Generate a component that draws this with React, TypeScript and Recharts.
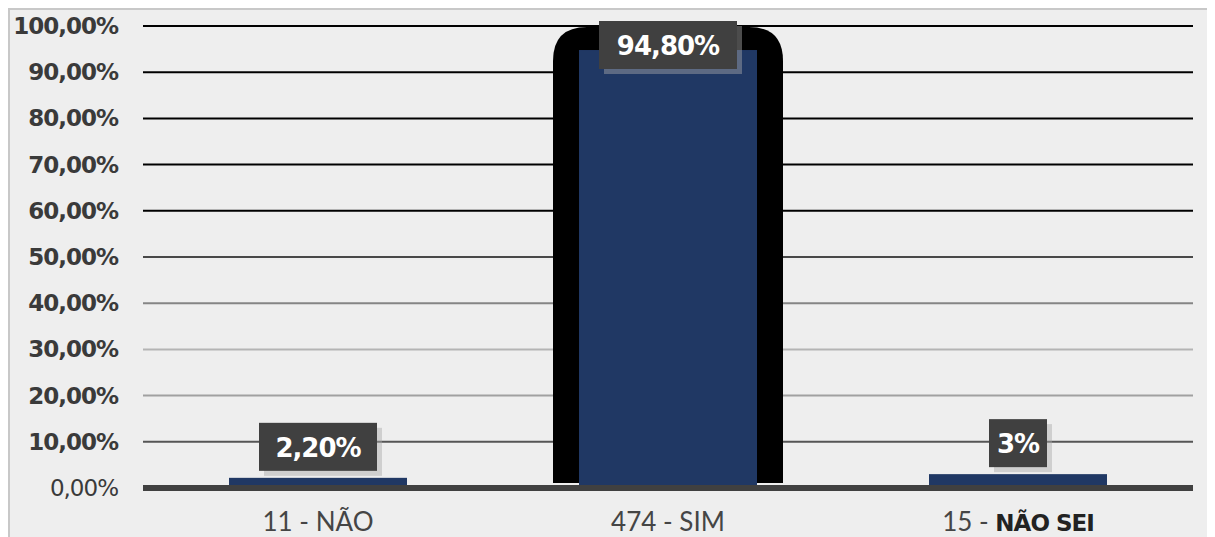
import { BarChart, Bar, XAxis, YAxis, CartesianGrid, LabelList } from "recharts";

const categories = ["11 - NÃO", "474 - SIM", "15 - NÃO SEI"];
const shares = [2.2, 94.8, 3];
const valueLabels = ["2,20%", "94,80%", "3%"];
const boldName = [false, false, true];
const shadowed = [false, true, false];
const yTicks = [0, 10, 20, 30, 40, 50, 60, 70, 80, 90, 100];

// gridline colours, bottom (0%) to top (100%)
const gridColors = ["#404040", "#555555", "#a0a0a0", "#b4b4b4", "#858585", "#484848", "#000000", "#000000", "#000000", "#000000", "#000000"];

const data = categories.map((c, i) => ({ name: c, value: shares[i] }));

const fmtPct = (v: number) => `${v.toFixed(2).replace(".", ",")}%`;

function YTick(props: any) {
  const { x, y, payload } = props;
  const zero = payload.value === 0;
  return (
    <text
      x={x}
      y={y}
      textAnchor="end"
      dominantBaseline="central"
      fontFamily="'DejaVu Sans', sans-serif"
      fontSize={23}
      fontWeight={zero ? 400 : 700}
      letterSpacing={-1}
      fill="#3a3a3a"
    >
      {fmtPct(payload.value)}
    </text>
  );
}

function XTick(props: any) {
  const { x, y, payload, index } = props;
  const [num, name] = String(payload.value).split(" - ");
  return (
    <text x={x} y={y + 35} textAnchor="middle" fontFamily="Lato, sans-serif" fontSize={26} fill="#454545">
      <tspan fontWeight={400}>{num} - </tspan>
      <tspan
        fontWeight={boldName[index] ? 700 : 400}
        fontFamily={boldName[index] ? "'DejaVu Sans', sans-serif" : undefined}
        fontSize={boldName[index] ? 23 : 26}
        letterSpacing={boldName[index] ? -1 : 0}
        fill={boldName[index] ? "#222" : "#454545"}
      >
        {name}
      </tspan>
    </text>
  );
}

function BarShape(props: any) {
  const { x, y, width, height, index, fill } = props;
  const pad = 26;
  const r = 34;
  const top = y - 23;
  const bottom = y + height - 5;
  const left = x - pad;
  const right = x + width + pad;
  return (
    <g>
      {shadowed[index] && (
        <path
          d={`M${left},${bottom} L${left},${top + r} Q${left},${top} ${left + r},${top} L${right - r},${top} Q${right},${top} ${right},${top + r} L${right},${bottom} Z`}
          fill="#000"
        />
      )}
      <rect x={x} y={y} width={width} height={height} fill={fill} />
    </g>
  );
}

function ValueLabel(props: any) {
  const { x, y, width, index } = props;
  const text = valueLabels[index];
  const w = text.length * 20 + 18;
  const h = 48;
  const cy = Math.max(35, y - 31);
  const cx = x + width / 2;
  return (
    <g>
      <rect x={cx - w / 2 + 5} y={cy - h / 2 + 5} width={w} height={h} fill="#a8a8a8" opacity={0.45} />
      <rect x={cx - w / 2} y={cy - h / 2} width={w} height={h} fill="#404040" />
      <text
        x={cx}
        y={cy + 1}
        textAnchor="middle"
        dominantBaseline="central"
        fontFamily="'DejaVu Sans', sans-serif"
        fontSize={26}
        fontWeight={700}
        letterSpacing={-1}
        fill="#ffffff"
      >
        {text}
      </text>
    </g>
  );
}

export default function App() {
  return (
    <div
      style={{
        width: 1203,
        height: 540,
        border: "2px solid #c8c8c8",
        background: "#eeeeee",
      }}
    >
      <BarChart width={1203} height={530} data={data} margin={{ top: 16, right: 20, left: 8, bottom: 12 }}>
        <CartesianGrid
          vertical={false}
          horizontal={(p: any) => (
            <line
              key={p.key ?? p.index}
              x1={p.x1}
              x2={p.x2}
              y1={p.y1}
              y2={p.y2}
              stroke={gridColors[p.index] ?? "#000"}
              strokeWidth={2}
            />
          )}
        />
        <XAxis
          xAxisId="edges"
          type="number"
          domain={[0, 3]}
          ticks={[0, 1, 2, 3]}
          height={0}
          axisLine={false}
          tick={false}
          tickSize={7}
          tickLine={{ stroke: "#404040", strokeWidth: 4 }}
        />
        <XAxis
          dataKey="name"
          height={40}
          interval={0}
          axisLine={{ stroke: "#404040", strokeWidth: 6 }}
          tickLine={false}
          tick={<XTick />}
        />
        <YAxis
          domain={[0, 100]}
          ticks={yTicks}
          width={125}
          axisLine={false}
          tickLine={false}
          tickSize={0}
          tickMargin={25}
          tick={<YTick />}
        />
        <Bar dataKey="value" fill="#203864" barSize={178} shape={<BarShape />} isAnimationActive={false}>
          <LabelList dataKey="value" content={<ValueLabel />} />
        </Bar>
      </BarChart>
    </div>
  );
}
